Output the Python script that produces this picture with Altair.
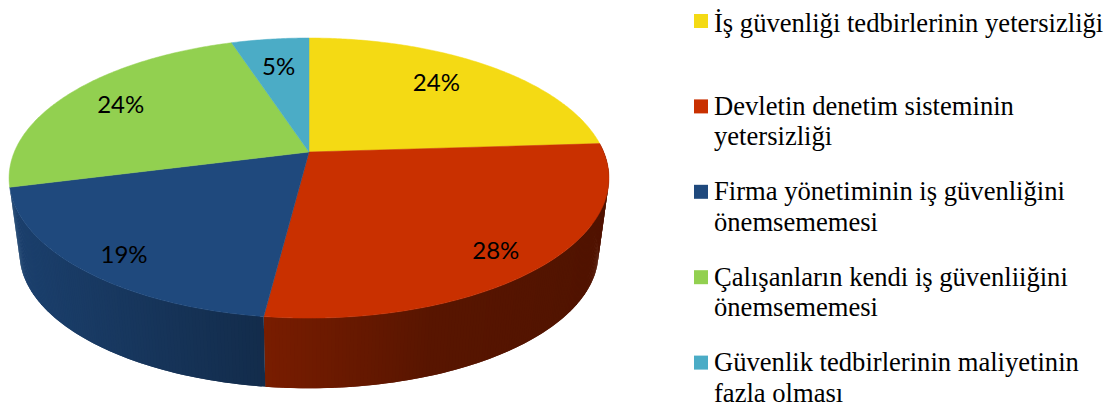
import math

import altair as alt
import numpy as np
import pandas as pd

# Survey shares, clockwise from twelve o'clock
CATEGORIES = [
    ["İş güvenliği tedbirlerinin yetersizliği"],
    ["Devletin denetim sisteminin", "yetersizliği"],
    ["Firma yönetiminin iş güvenliğini", "önemsememesi"],
    ["Çalışanların kendi iş güvenliiğini", "önemsememesi"],
    ["Güvenlik tedbirlerinin maliyetinin", "fazla olması"],
]
SHARES = [24, 28, 19, 24, 5]
COLORS = ["#F4DA14", "#C93000", "#1F497D", "#92D050", "#4BACC6"]

WIDTH, HEIGHT = 1114, 407

# Perspective of the tilted disc
CX, CY = 309.0, 152.0
AX, AY = 294.7, 135.2
KEYSTONE = 0.186
# The underside of the disc sits lower and slightly smaller
BASE_Y, BASE_SCALE = 228.0, 0.965
# Where each percentage sits: reach along its slice, then a small pixel shift
LABEL_REACH = [0.72, 0.85, 0.85, 0.78, 0.75]
LABEL_SHIFT = [(-5, -3), (-7, 5), (3, 6), (0, 1), (0, 4)]


def top_point(theta, r=1.0):
    u, v = r * math.sin(theta), r * math.cos(theta)
    d = 1 + KEYSTONE * v
    return CX + AX * u / d, CY - AY * v / d


def base_point(theta):
    u, v = math.sin(theta), math.cos(theta)
    d = 1 + KEYSTONE * v
    return CX + BASE_SCALE * AX * u / d, BASE_Y - BASE_SCALE * AY * v / d


def shaded(hex_color, x):
    # The rim darkens from left to right
    f = float(np.interp(x, [20, 266, 430, 600], [0.87, 0.60, 0.44, 0.40]))
    rgb = [int(hex_color[i:i + 2], 16) for i in (1, 3, 5)]
    return "#" + "".join(f"{round(c * f):02x}" for c in rgb)


def feature(points, fill):
    ring = [list(p) for p in points] + [list(points[0])]
    return {
        "type": "Feature",
        "properties": {"fill": fill},
        "geometry": {"type": "Polygon", "coordinates": [ring]},
    }


walls, faces, labels = [], [], []
start = 0.0
for share, color, reach, shift in zip(SHARES, COLORS, LABEL_REACH, LABEL_SHIFT):
    a0 = start / 100 * 2 * math.pi
    a1 = (start + share) / 100 * 2 * math.pi
    mid = (a0 + a1) / 2
    steps = max(int(share * 6), 4)
    angles = [a0 + (a1 - a0) * i / steps for i in range(steps + 1)]

    faces.append(feature([(CX, CY)] + [top_point(t) for t in angles], color))

    # Only the slices facing the viewer show a rim. Each strip runs on under
    # the next one, so no hairline gaps open between neighbouring strips.
    if math.cos(mid) < 0:
        for i in range(steps):
            t0, t1 = angles[i], angles[min(i + 2, steps)]
            quad = [top_point(t0), top_point(t1), base_point(t1), base_point(t0)]
            x_here = (top_point(t0)[0] + base_point(t0)[0]) / 2
            walls.append(feature(quad, shaded(color, x_here)))

    lx, ly = top_point(mid, reach)
    labels.append({"px": lx + shift[0], "py": ly + shift[1], "share": f"{share}%"})
    start += share

# Legend: one swatch per category, text lines set on fixed baselines
LEGEND_SWATCH_X, LEGEND_TEXT_X = 701, 714
LEGEND_FIRST_Y, LEGEND_ROW = 21, 85.4
LINE_DROP = [10.7, 8.3, 8.3, 8.3, 8.7]
LINE_STEP = 30.5

swatches, legend_lines = [], []
for i, (lines, color) in enumerate(zip(CATEGORIES, COLORS)):
    y = LEGEND_FIRST_Y + i * LEGEND_ROW
    swatches.append({"px": LEGEND_SWATCH_X, "py": y, "fill": color})
    for j, line in enumerate(lines):
        legend_lines.append(
            {"px": LEGEND_TEXT_X, "py": y + LINE_DROP[i] + j * LINE_STEP, "line": line}
        )


def polygons(features, stroke_width=0):
    return (
        alt.Chart(alt.InlineData(values=features))
        .mark_geoshape(strokeWidth=stroke_width)
        .encode(
            fill=alt.Fill("properties.fill:N", scale=None, legend=None),
            stroke=alt.Stroke("properties.fill:N", scale=None, legend=None),
        )
        .project(type="identity", scale=1, translate=[0, 0])
    )


px = alt.X("px:Q", scale=None, axis=None)
py = alt.Y("py:Q", scale=None, axis=None)

share_text = (
    alt.Chart(pd.DataFrame(labels))
    .mark_text(font="Lato", fontSize=24, color="#000000", align="center", baseline="middle")
    .encode(x=px, y=py, text="share:N")
)
swatch_marks = (
    alt.Chart(pd.DataFrame(swatches))
    .mark_square(size=196, opacity=1, filled=True)
    .encode(x=px, y=py, fill=alt.Fill("fill:N", scale=None, legend=None))
)
legend_text = (
    alt.Chart(pd.DataFrame(legend_lines))
    .mark_text(
        font="Liberation Serif", fontSize=26.6, color="#000000",
        align="left", baseline="alphabetic",
    )
    .encode(x=px, y=py, text="line:N")
)

chart = (
    alt.layer(polygons(walls), polygons(faces, 0.5), share_text, swatch_marks, legend_text)
    .properties(width=WIDTH, height=HEIGHT, padding=0, autosize=alt.AutoSizeParams(type="none"))
    .configure_view(stroke=None)
)
chart.save("out.html", embed_options={"renderer": "svg", "actions": False})
